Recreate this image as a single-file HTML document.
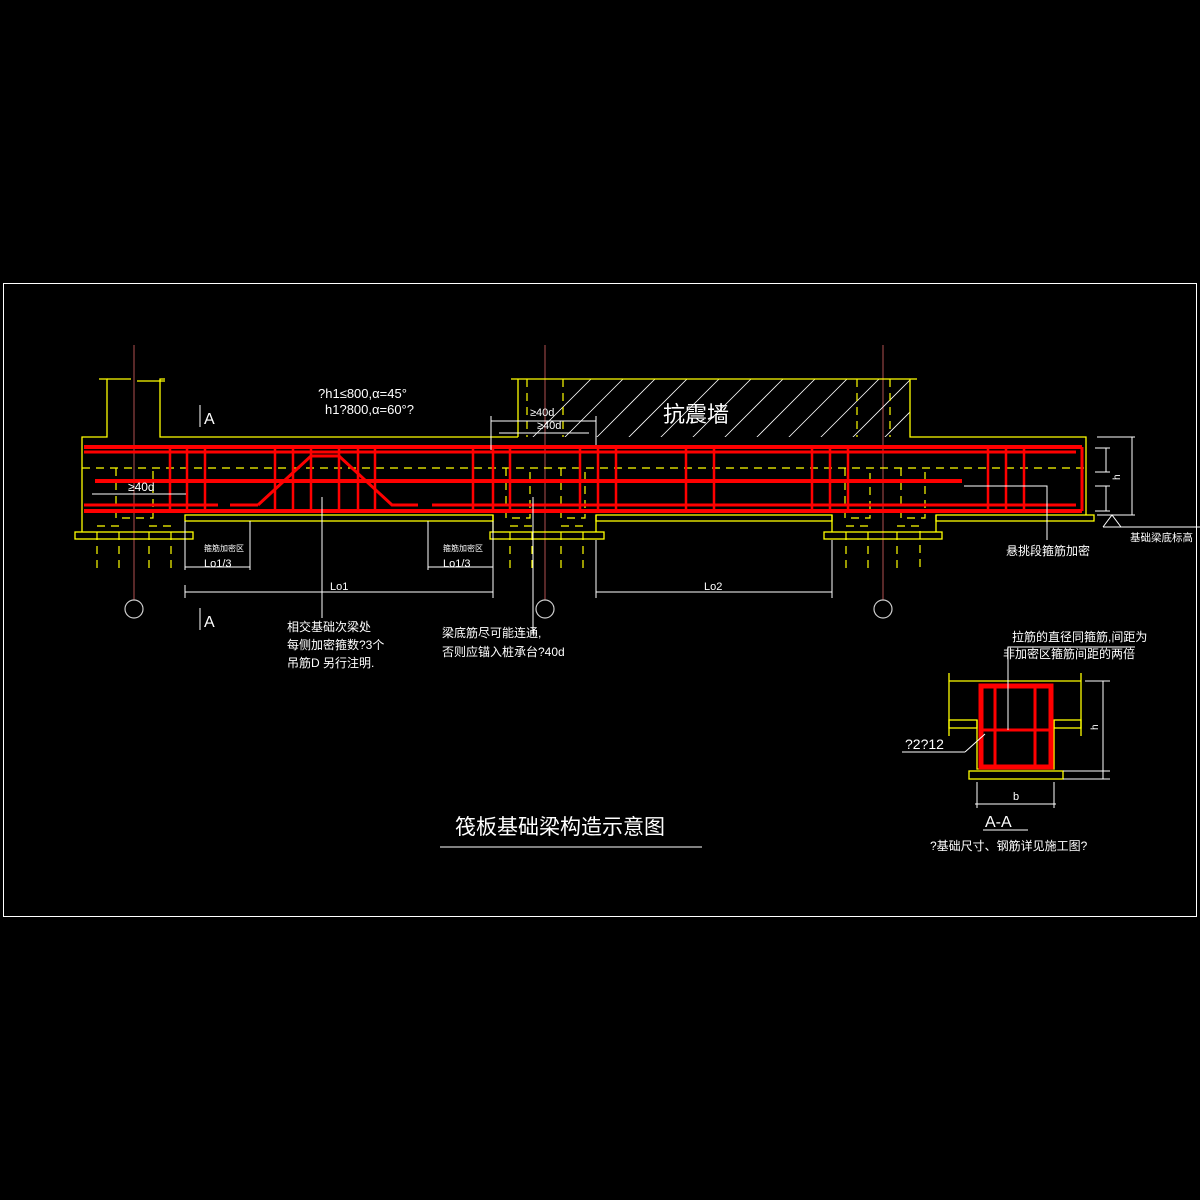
<!DOCTYPE html>
<html><head><meta charset="utf-8"><style>
html,body{margin:0;padding:0;background:#000;}
svg{display:block}
text{font-family:"Liberation Sans","Noto Sans CJK SC",sans-serif;fill:#fff}
</style></head><body>
<svg width="1200" height="1200" viewBox="0 0 1200 1200" xmlns="http://www.w3.org/2000/svg">
<rect x="0" y="0" width="1200" height="1200" fill="#000"/>
<rect x="3.5" y="283.5" width="1193" height="633" fill="none" stroke="#fff" stroke-width="1"/>

<g stroke="#b05050" stroke-width="1">
<line x1="134" y1="345" x2="134" y2="600"/>
<line x1="545" y1="345" x2="545" y2="600"/>
<line x1="883" y1="345" x2="883" y2="600"/>
</g>
<g fill="none" stroke="#ccc" stroke-width="1.2">
<circle cx="134" cy="609" r="9"/><circle cx="545" cy="609" r="9"/><circle cx="883" cy="609" r="9"/>
</g>

<g stroke="#fff" stroke-width="0.8">
<clipPath id="w"><rect x="518" y="379" width="392" height="58"/></clipPath>
<g clip-path="url(#w)">
<line x1="500" y1="470" x2="600" y2="370"/><line x1="532" y1="470" x2="632" y2="370"/><line x1="564" y1="470" x2="664" y2="370"/><line x1="596" y1="470" x2="696" y2="370"/><line x1="628" y1="470" x2="728" y2="370"/><line x1="660" y1="470" x2="760" y2="370"/><line x1="692" y1="470" x2="792" y2="370"/><line x1="724" y1="470" x2="824" y2="370"/><line x1="756" y1="470" x2="856" y2="370"/><line x1="788" y1="470" x2="888" y2="370"/><line x1="820" y1="470" x2="920" y2="370"/><line x1="852" y1="470" x2="952" y2="370"/><line x1="884" y1="470" x2="984" y2="370"/>
</g></g>

<g fill="none" stroke="#ff0" stroke-width="1.3">
<polyline points="82,532 82,437 107,437 107,379 99,379"/>
<line x1="107" y1="379" x2="131" y2="379"/><line x1="137" y1="381" x2="165" y2="381"/>
<polyline points="165,379 160,379 160,437 518,437"/>
<line x1="511" y1="379" x2="917" y2="379"/>
<line x1="518" y1="379" x2="518" y2="437"/>
<polyline points="910,379 910,437 1086,437 1086,515"/>
<polyline points="493,515 493,532"/><polyline points="596,515 596,532"/>
<polyline points="832,515 832,532"/><polyline points="936,515 936,532"/>
<rect x="185" y="515" width="308" height="6"/>
<rect x="596" y="515" width="236" height="6"/>
<rect x="936" y="515" width="158" height="6"/>
<rect x="75" y="532" width="118" height="7"/>
<rect x="490" y="532" width="114" height="7"/>
<rect x="824" y="532" width="118" height="7"/>
</g>
<g fill="none" stroke="#ff0" stroke-width="1.2" stroke-dasharray="8,6">
<line x1="82" y1="468" x2="1086" y2="468"/>
<polyline points="116,468 116,518 153,518 153,468"/>
<polyline points="506,468 506,518 530,518 530,468"/>
<polyline points="561,468 561,518 585,518 585,468"/>
<polyline points="845,468 845,518 870,518 870,468"/>
<polyline points="901,468 901,518 925,518 925,468"/>
<line x1="857" y1="379" x2="857" y2="437"/><line x1="890" y1="379" x2="890" y2="437"/>
<line x1="527" y1="379" x2="527" y2="437"/><line x1="563" y1="379" x2="563" y2="437"/>
<polyline points="97,568 97,526 119,526 119,568"/><polyline points="149,568 149,526 171,526 171,568"/>
<polyline points="510,568 510,526 532,526 532,568"/><polyline points="561,568 561,526 583,526 583,568"/>
<polyline points="846,568 846,526 868,526 868,568"/><polyline points="897,568 897,526 920,526 920,568"/>
</g>

<g stroke="#f00" fill="none">
<g stroke-width="4">
<line x1="84" y1="447" x2="1082" y2="447"/>
<line x1="95" y1="481" x2="962" y2="481"/>
<line x1="84" y1="511" x2="1082" y2="511"/>
</g>
<g stroke-width="3">
<line x1="84" y1="452" x2="1076" y2="452"/>
<line x1="84" y1="505" x2="218" y2="505"/>
<line x1="230" y1="505" x2="258" y2="505"/>
<polyline points="258,505 311,456 339,456 392,505 418,505"/>
<line x1="432" y1="505" x2="1076" y2="505"/>
<line x1="1082" y1="447" x2="1082" y2="511"/>
</g>
<g stroke-width="2.5">
<line x1="170" y1="447" x2="170" y2="511"/><line x1="187" y1="447" x2="187" y2="511"/><line x1="205" y1="447" x2="205" y2="511"/>
<line x1="275" y1="447" x2="275" y2="511"/><line x1="293" y1="447" x2="293" y2="511"/><line x1="311" y1="447" x2="311" y2="511"/>
<line x1="339" y1="447" x2="339" y2="511"/><line x1="358" y1="447" x2="358" y2="511"/><line x1="375" y1="447" x2="375" y2="511"/>
<line x1="473" y1="447" x2="473" y2="511"/><line x1="493" y1="447" x2="493" y2="511"/><line x1="510" y1="447" x2="510" y2="511"/>
<line x1="580" y1="447" x2="580" y2="511"/><line x1="598" y1="447" x2="598" y2="511"/><line x1="616" y1="447" x2="616" y2="511"/>
<line x1="686" y1="447" x2="686" y2="511"/><line x1="714" y1="447" x2="714" y2="511"/>
<line x1="812" y1="447" x2="812" y2="511"/><line x1="830" y1="447" x2="830" y2="511"/><line x1="848" y1="447" x2="848" y2="511"/>
<line x1="988" y1="447" x2="988" y2="511"/><line x1="1006" y1="447" x2="1006" y2="511"/><line x1="1024" y1="447" x2="1024" y2="511"/>
</g>
</g>

<g stroke="#fff" stroke-width="1" fill="none">
<line x1="92" y1="494" x2="186" y2="494"/>
<line x1="185" y1="521" x2="185" y2="570"/><line x1="250" y1="521" x2="250" y2="570"/>
<line x1="185" y1="567" x2="250" y2="567"/>
<line x1="185" y1="592" x2="493" y2="592"/><line x1="185" y1="585" x2="185" y2="598"/>
<line x1="428" y1="521" x2="428" y2="570"/><line x1="428" y1="567" x2="493" y2="567"/><line x1="493" y1="521" x2="493" y2="598"/>
<line x1="596" y1="540" x2="596" y2="598"/><line x1="832" y1="540" x2="832" y2="598"/>
<line x1="596" y1="592" x2="832" y2="592"/>
<line x1="322" y1="497" x2="322" y2="618"/>
<line x1="533" y1="497" x2="533" y2="633"/>
<line x1="491" y1="421" x2="596" y2="421"/><line x1="499" y1="433" x2="589" y2="433"/>
<line x1="491" y1="416" x2="491" y2="450"/><line x1="596" y1="416" x2="596" y2="445"/>
<polyline points="964,486 1047,486 1047,540"/>
<line x1="1097" y1="437" x2="1135" y2="437"/><line x1="1097" y1="515" x2="1135" y2="515"/>
<line x1="1132" y1="437" x2="1132" y2="515"/>
<line x1="1095" y1="448" x2="1110" y2="448"/><line x1="1095" y1="472" x2="1110" y2="472"/>
<line x1="1095" y1="486" x2="1110" y2="486"/><line x1="1095" y1="511" x2="1110" y2="511"/>
<line x1="1106" y1="448" x2="1106" y2="472"/><line x1="1106" y1="486" x2="1106" y2="511"/>
<polyline points="1103,527 1112,515 1121,527"/><line x1="1103" y1="527" x2="1200" y2="527"/>
<line x1="200" y1="405" x2="200" y2="427"/><line x1="200" y1="608" x2="200" y2="630"/>
<line x1="440" y1="847" x2="702" y2="847"/>
</g>

<g font-size="11">
<text x="318" y="398" font-size="13">?h1≤800,α=45°</text>
<text x="325" y="414" font-size="13">h1?800,α=60°?</text>
<text x="204" y="424" font-size="16">A</text>
<text x="204" y="627" font-size="16">A</text>
<text x="128" y="491" font-size="12">≥40d</text>
<text x="530" y="416">≥40d</text>
<text x="537" y="429">≥40d</text>
<text x="204" y="551" font-size="8">箍筋加密区</text>
<text x="204" y="567">Lo1/3</text>
<text x="443" y="551" font-size="8">箍筋加密区</text>
<text x="443" y="567">Lo1/3</text>
<text x="330" y="590">Lo1</text>
<text x="704" y="590">Lo2</text>
<text x="663" y="422" font-size="22">抗震墙</text>
<text x="1006" y="555" font-size="12">悬挑段箍筋加密</text>
<text x="1130" y="541" font-size="10.5">基础梁底标高</text>
<text x="1120" y="480" font-size="10" transform="rotate(-90 1120 480)">h</text>
<text x="287" y="631" font-size="12">相交基础次梁处</text>
<text x="287" y="649" font-size="12">每侧加密箍数?3个</text>
<text x="287" y="667" font-size="12">吊筋D 另行注明.</text>
<text x="442" y="637" font-size="12">梁底筋尽可能连通,</text>
<text x="442" y="656" font-size="12">否则应锚入桩承台?40d</text>
<text x="455" y="834" font-size="21">筏板基础梁构造示意图</text>
</g>

<g stroke="#ff0" stroke-width="1.3" fill="none">
<line x1="949" y1="681" x2="1081" y2="681"/>
<line x1="949" y1="673" x2="949" y2="736"/><line x1="1081" y1="673" x2="1081" y2="736"/>
<rect x="949" y="720" width="28" height="8"/><rect x="1054" y="720" width="27" height="8"/>
<polyline points="977,720 977,769 1054,769 1054,720"/>
<rect x="969" y="771" width="94" height="8"/>
</g>
<g stroke="#f00" fill="none">
<rect x="981" y="686" width="70" height="81" stroke-width="5"/>
<line x1="995" y1="686" x2="995" y2="767" stroke-width="3"/>
<line x1="1035" y1="686" x2="1035" y2="767" stroke-width="3"/>
<line x1="981" y1="730" x2="1051" y2="730" stroke-width="3"/>
</g>
<g stroke="#fff" stroke-width="1" fill="none">
<polyline points="1008,730 1008,647 1135,647"/>
<line x1="902" y1="752" x2="965" y2="752"/><line x1="965" y1="752" x2="985" y2="734"/>
<line x1="1085" y1="681" x2="1110" y2="681"/><line x1="1103" y1="681" x2="1103" y2="779"/>
<line x1="1063" y1="771" x2="1110" y2="771"/><line x1="1063" y1="779" x2="1110" y2="779"/>
<line x1="977" y1="782" x2="977" y2="808"/><line x1="1054" y1="782" x2="1054" y2="808"/>
<line x1="975" y1="804" x2="1056" y2="804"/>
<line x1="983" y1="830" x2="1028" y2="830"/>
</g>
<text x="1012" y="641" font-size="12">拉筋的直径同箍筋,间距为</text>
<text x="1003" y="658" font-size="12">非加密区箍筋间距的两倍</text>
<text x="905" y="749" font-size="14">?2?12</text>
<text x="1013" y="800" font-size="11">b</text>
<text x="1098" y="730" font-size="10" transform="rotate(-90 1098 730)">h</text>
<text x="985" y="827" font-size="16">A-A</text>
<text x="930" y="850" font-size="12">?基础尺寸、钢筋详见施工图?</text>
</svg>
</body></html>
